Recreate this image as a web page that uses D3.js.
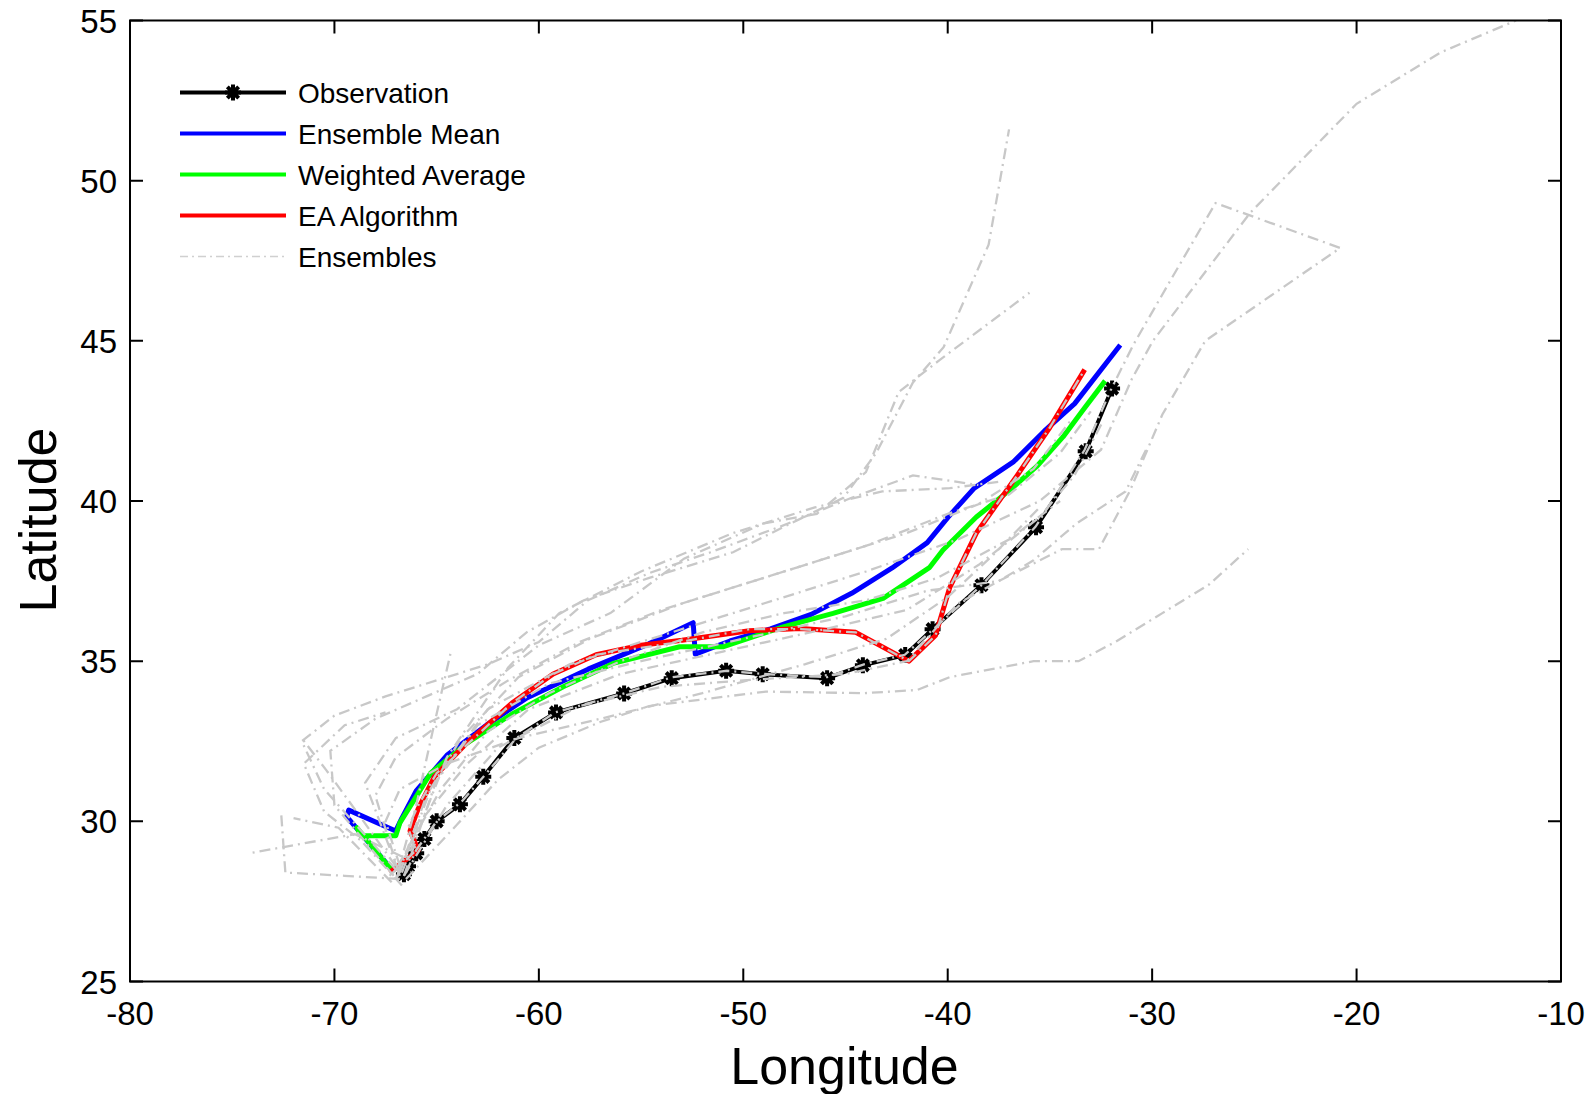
<!DOCTYPE html>
<html>
<head>
<meta charset="utf-8">
<script src="https://cdn.jsdelivr.net/npm/d3@7"></script>
<style>
  body { margin: 0; background: #fff; }
  text { font-family: "Liberation Sans", Arial, sans-serif; }
</style>
</head>
<body>
<div id="graphic"></div>
<script>
// track data: [longitude, latitude]
var observation = [[-66.6,28.35],[-66.4,28.6],[-66.0,29.0],[-65.6,29.45],[-65.0,30.0],[-63.86,30.53],[-62.72,31.39],
  [-61.2,32.6],[-59.16,33.4],[-55.83,33.99],[-53.5,34.47],[-50.84,34.7],[-49.05,34.59],[-45.9,34.47],[-44.15,34.87],
  [-42.08,35.19],[-40.74,36.0],[-38.35,37.37],[-35.68,39.18],[-33.25,41.55],[-31.96,43.51]];

var ensembleMean = [[-67.2,28.5],[-69.4,30.15],[-69.3,30.35],[-67.0,29.7],[-66.7,30.1],[-66.0,30.95],[-64.5,32.06],
  [-62.55,33.01],[-60.57,33.86],[-57.59,34.75],[-54.62,35.54],[-52.45,36.2],[-52.35,35.22],[-50.65,35.63],[-48.67,36.01],
  [-46.68,36.46],[-44.7,37.12],[-42.72,37.91],[-41.0,38.7],[-39.99,39.49],[-38.7,40.4],[-36.77,41.23],[-35.28,42.18],
  [-33.79,43.04],[-31.56,44.87]];

var weightedAverage = [[-67.1,28.4],[-68.9,29.8],[-68.7,29.55],[-67.0,29.55],[-66.8,29.95],[-66.0,30.77],[-65.3,31.5],
  [-63.5,32.45],[-61.26,33.37],[-58.81,34.2],[-56.37,34.93],[-53.11,35.45],[-51.0,35.45],[-48.05,36.07],[-45.61,36.49],
  [-43.16,36.96],[-40.88,37.93],[-40.23,38.47],[-38.6,39.5],[-36.97,40.34],[-35.66,41.07],[-34.36,42.0],[-33.38,42.84],
  [-32.3,43.75]];

var eaAlgorithm = [[-67.3,28.4],[-65.9,29.1],[-66.3,29.7],[-65.9,30.4],[-65.1,31.4],[-63.6,32.4],[-61.3,33.7],[-59.3,34.6],
  [-57.2,35.2],[-55.0,35.5],[-53.0,35.65],[-49.7,35.95],[-47.2,36.02],[-44.5,35.9],[-41.9,35.0],[-40.6,35.8],[-39.9,37.3],
  [-38.6,39.0],[-36.6,40.8],[-35.0,42.3],[-33.3,44.1]];

var ensembles = [
  [[-66.9,28.4],[-66.0,30.5],[-65.2,32.8],[-64.3,35.3]],
  [[-67.0,28.6],[-68.8,30.2],[-70.4,31.6],[-71.6,32.6]],
  [[-66.7,28.9],[-69.0,29.6],[-71.6,29.3],[-74.2,29.0]],
  [[-66.8,28.2],[-69.5,28.3],[-72.4,28.4],[-72.6,30.2]],
  [[-67.1,28.3],[-70.0,30.5],[-70.2,32.2],[-68.0,33.2],[-65.5,33.9],[-63.0,34.6],[-60.6,35.9],[-57.8,36.9],[-54.6,37.6],
   [-50.5,38.4],[-48.0,39.2],[-45.1,40.1],[-43.5,41.5],[-41.7,43.7],[-40.2,44.8],[-38.0,48.0],[-37.0,51.6]],
  [[-66.9,28.5],[-68.5,31.2],[-67.0,32.6],[-64.0,33.5],[-60.0,35.5],[-56.5,36.5],[-52.9,38.2],[-49.0,39.3],[-46.4,39.6],
   [-44.0,40.9],[-42.4,43.4],[-40.4,44.4],[-36.0,46.5]],
  [[-66.7,28.4],[-64.5,32.0],[-61.5,34.8],[-59.0,36.5],[-55.0,37.8],[-50.5,39.0],[-46.5,39.8],[-43.2,40.3],[-39.9,40.4],
   [-37.5,40.6]],
  [[-66.6,28.3],[-65.0,31.3],[-62.5,33.5],[-58.5,34.9],[-54.0,35.8],[-49.0,36.8],[-44.0,37.8],[-39.5,38.8],[-35.5,40.0],
   [-32.5,41.6],[-31.0,43.8],[-29.96,45.0],[-27.7,46.9],[-25.2,49.0],[-20.0,52.4],[-15.9,54.0],[-12.2,55.0]],
  [[-66.8,28.4],[-65.3,31.0],[-63.0,33.0],[-59.5,34.3],[-55.0,35.0],[-50.0,35.7],[-45.0,36.4],[-41.0,37.2],[-37.5,37.5],
   [-34.4,38.5],[-32.6,38.5],[-31.1,40.3],[-29.5,42.7],[-27.4,45.0],[-20.8,47.9],[-26.9,49.3],[-29.0,47.0],[-30.9,44.9],
   [-32.0,43.5]],
  [[-66.5,28.2],[-64.0,29.9],[-62.0,31.3],[-60.0,32.3],[-57.0,33.1],[-54.6,33.6],[-48.9,34.05],[-44.1,34.0],[-41.5,34.1],
   [-39.9,34.5],[-35.8,35.0],[-33.6,35.0],[-31.8,35.6],[-29.5,36.5],[-27.2,37.4],[-25.3,38.5]],
  [[-66.6,28.3],[-64.5,30.5],[-62.0,32.3],[-58.0,33.6],[-54.0,34.2],[-50.0,34.4],[-45.0,34.6],[-42.0,35.0],[-39.5,36.8],
   [-37.5,37.5],[-35.8,38.15],[-33.7,39.3],[-31.3,40.3],[-30.3,41.6]],
  [[-66.5,28.4],[-66.0,29.1],[-65.0,30.0],[-63.8,30.6],[-62.7,31.4],[-61.1,32.6],[-59.2,33.4],[-55.8,34.0],[-53.5,34.5],
   [-50.8,34.7],[-49.0,34.6],[-45.9,34.5],[-44.1,34.9],[-42.1,35.2],[-40.7,36.0],[-38.3,37.4],[-35.7,39.2],[-33.3,41.6],
   [-32.0,43.5]],
  [[-67.3,28.3],[-66.0,29.1],[-66.4,29.8],[-65.9,30.5],[-65.0,31.5],[-63.5,32.4],[-61.3,33.7],[-59.3,34.6],[-57.2,35.2],
   [-53.1,35.6],[-49.7,36.0],[-47.2,36.0],[-44.5,35.9],[-41.9,35.0],[-40.6,35.8],[-39.9,37.3],[-38.6,39.0],[-36.6,40.8],
   [-35.0,42.3],[-33.3,44.1]],
  [[-67.0,28.2],[-65.8,30.0],[-63.5,31.8],[-60.5,33.5],[-56.0,34.6],[-51.0,35.3],[-46.0,36.0],[-42.0,36.6],[-38.5,38.0],
   [-35.5,39.5],[-33.8,40.8],[-32.4,42.5]],
  [[-66.9,28.3],[-65.5,30.8],[-63.8,32.6],[-61.0,34.5],[-57.5,35.7],[-53.0,36.8],[-48.5,37.7],[-44.0,38.6],[-40.0,39.6],
   [-37.0,40.2],[-34.5,41.5],[-33.0,42.8]],
  [[-66.8,28.6],[-67.5,30.0],[-66.8,31.0],[-64.5,31.8],[-61.0,32.6],[-57.0,33.2],[-52.0,34.0],[-47.0,34.9],[-43.0,35.7],
   [-40.0,37.0],[-37.8,38.3],[-35.5,39.8]],
  [[-66.7,28.0],[-68.7,29.4],[-70.5,30.3],[-71.5,31.8],[-69.5,33.0],[-67.5,33.4]],
  [[-67.2,28.1],[-69.8,29.8],[-72.0,30.1]],
  [[-67.0,28.5],[-70.5,31.0],[-71.6,32.5],[-70.0,33.3],[-67.5,33.9],[-65.0,34.4],[-62.5,34.9],[-60.0,35.6],[-57.6,36.9],
   [-54.6,37.75],[-51.6,38.4],[-48.2,39.2],[-44.7,40.1],[-41.7,40.8],[-38.5,40.5]],
  [[-66.8,28.3],[-68.0,30.8],[-67.0,32.0],[-64.5,33.2],[-61.5,34.4],[-58.0,35.6],[-54.0,36.6],[-50.0,37.4],[-46.0,38.2],
   [-42.0,39.0],[-38.5,39.9],[-35.8,41.0],[-34.0,42.5]],
  [[-66.9,28.6],[-64.8,31.0],[-62.5,32.8],[-59.5,34.0],[-56.0,35.0],[-52.0,35.9],[-48.0,36.5],[-44.0,36.9],[-40.5,37.6],
   [-37.0,38.8],[-34.5,40.0]]
];

var xTicks = [-80, -70, -60, -50, -40, -30, -20, -10];
var yTicks = [25, 30, 35, 40, 45, 50, 55];
var legendLabels = ["Observation", "Ensemble Mean", "Weighted Average", "EA Algorithm", "Ensembles"];

var margin = {top: 20.5, right: 29, bottom: 112.5, left: 130},
    width = 1590 - margin.left - margin.right,
    height = 1094 - margin.top - margin.bottom;

var x = d3.scaleLinear().domain([-80, -10]).range([0, width]);
var y = d3.scaleLinear().domain([25, 55]).range([height, 0]);

var svg = d3.select("#graphic").append("svg")
  .attr("width", 1590)
  .attr("height", 1094)
  .append("g")
  .attr("transform", "translate(" + margin.left + "," + margin.top + ")");

svg.append("clipPath").attr("id", "clip")
  .append("rect").attr("width", width).attr("height", height);

var line = d3.line()
  .x(function(d) { return x(d[0]); })
  .y(function(d) { return y(d[1]); });

var plot = svg.append("g").attr("clip-path", "url(#clip)");

// asterisk marker like matlab '*'
function star(r) {
  var a = r * 0.7071;
  return "M" + (-r) + ",0L" + r + ",0M0," + (-r) + "L0," + r +
    "M" + (-a) + "," + (-a) + "L" + a + "," + a + "M" + (-a) + "," + a + "L" + a + "," + (-a);
}

plot.append("path").datum(observation)
  .attr("d", line).attr("fill", "none").attr("stroke", "#000").attr("stroke-width", 4)
  .attr("stroke-linejoin", "round");

plot.selectAll(".obs")
  .data(observation)
  .enter().append("path")
  .attr("class", "obs")
  .attr("transform", function(d) { return "translate(" + x(d[0]) + "," + y(d[1]) + ")"; })
  .attr("d", star(8))
  .attr("stroke", "#000").attr("stroke-width", 4).attr("fill", "none");

var mains = [
  {data: ensembleMean, color: "#0000ff"},
  {data: weightedAverage, color: "#00ff00"},
  {data: eaAlgorithm, color: "#ff0000"}
];

mains.forEach(function(m) {
  plot.append("path").datum(m.data)
    .attr("d", line).attr("fill", "none")
    .attr("stroke", m.color).attr("stroke-width", 5)
    .attr("stroke-linejoin", "round");
});

// ensemble members on top
plot.selectAll(".ens")
  .data(ensembles)
  .enter().append("path")
  .attr("class", "ens")
  .attr("d", line)
  .attr("fill", "none")
  .attr("stroke", "#c8c8c8")
  .attr("stroke-width", 2.3)
  .attr("stroke-dasharray", "11,5,2,5");

// frame with inward ticks on all sides
svg.append("rect").attr("width", width).attr("height", height)
  .attr("fill", "none").attr("stroke", "#000").attr("stroke-width", 2);

var tickLen = 13;
svg.selectAll(".xt")
  .data(xTicks)
  .enter().append("path")
  .attr("d", function(d) {
    return "M" + x(d) + "," + height + "v" + (-tickLen) + "M" + x(d) + ",0v" + tickLen;
  })
  .attr("stroke", "#000").attr("stroke-width", 2);

svg.selectAll(".yt")
  .data(yTicks)
  .enter().append("path")
  .attr("d", function(d) {
    return "M0," + y(d) + "h" + tickLen + "M" + width + "," + y(d) + "h" + (-tickLen);
  })
  .attr("stroke", "#000").attr("stroke-width", 2);

svg.selectAll(".xl")
  .data(xTicks)
  .enter().append("text")
  .attr("x", function(d) { return x(d); })
  .attr("y", height + 43)
  .attr("text-anchor", "middle")
  .attr("font-size", 33)
  .text(function(d) { return d; });

svg.selectAll(".yl")
  .data(yTicks)
  .enter().append("text")
  .attr("x", -13)
  .attr("y", function(d) { return y(d) + 12; })
  .attr("text-anchor", "end")
  .attr("font-size", 33)
  .text(function(d) { return d; });

svg.append("text")
  .attr("x", width / 2 - 1)
  .attr("y", height + 102)
  .attr("text-anchor", "middle")
  .attr("font-size", 52)
  .text("Longitude");

svg.append("text")
  .attr("transform", "translate(-74," + (height / 2 + 19) + ") rotate(-90)")
  .attr("text-anchor", "middle")
  .attr("font-size", 52)
  .text("Latitude");

// legend
var legendStyles = [
  {color: "#000", width: 4, dash: null},
  {color: "#0000ff", width: 4, dash: null},
  {color: "#00ff00", width: 4, dash: null},
  {color: "#ff0000", width: 4, dash: null},
  {color: "#d0d0d0", width: 1.5, dash: "8,4,2,4"}
];

var legend = svg.append("g").attr("transform", "translate(50,72)");

legend.selectAll(".lg")
  .data(legendLabels)
  .enter().append("g")
  .attr("transform", function(d, i) { return "translate(0," + (i * 41) + ")"; })
  .each(function(d, i) {
    var g = d3.select(this), s = legendStyles[i];
    g.append("line").attr("x1", 0).attr("x2", 106).attr("y1", 0).attr("y2", 0)
      .attr("stroke", s.color).attr("stroke-width", s.width)
      .attr("stroke-dasharray", s.dash);
    if (i === 0) {
      g.append("path").attr("transform", "translate(53,0)").attr("d", star(8))
        .attr("stroke", "#000").attr("stroke-width", 4).attr("fill", "none");
    }
    g.append("text").attr("x", 118).attr("y", 10).attr("font-size", 28).text(d);
  });
</script>
</body>
</html>
